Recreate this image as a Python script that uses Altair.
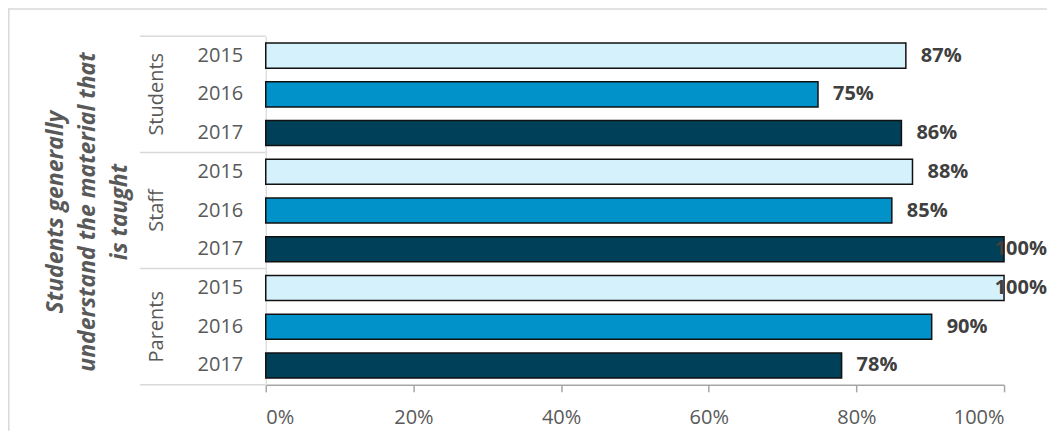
import altair as alt
import pandas as pd

groups = ["Students", "Students", "Students", "Staff", "Staff", "Staff", "Parents", "Parents", "Parents"]
years = ["2015", "2016", "2017", "2015", "2016", "2017", "2015", "2016", "2017"]
values = [0.867, 0.748, 0.861, 0.876, 0.848, 1.00, 1.00, 0.902, 0.78]
group_names = ["Students", "Staff", "Parents"]
title_lines = ["Students generally", "understand the material that", "is taught"]
x_ticks = [0, 0.2, 0.4, 0.6, 0.8, 1.0]
year_colors = ["#D5F1FC", "#0092C8", "#004059"]
year_domain = ["2015", "2016", "2017"]

keys = [g + "|" + y for g, y in zip(groups, years)]
df = pd.DataFrame({"key": keys, "group": groups, "year": years, "value": values})

W, H = 739, 349
FONT = "Open Sans"

yscale = alt.Scale(domain=keys, paddingInner=0, paddingOuter=0)
ybase = alt.Y("key:N", scale=yscale, sort=keys,
              axis=alt.Axis(title=None, labelExpr="split(datum.label, '|')[1]",
                            labelFont=FONT, labelFontSize=20, labelColor="#595959",
                            labelPadding=23, ticks=False, domainColor="#D9D9D9",
                            domainWidth=1.2))

bars = alt.Chart(df).mark_bar(height={"band": 0.65}, stroke="#111111", strokeWidth=1.5).encode(
    x=alt.X("value:Q", scale=alt.Scale(domain=[0, 1], nice=False),
            axis=alt.Axis(title=None, format="%", values=x_ticks, grid=False,
                          labelFont=FONT, labelFontSize=20, labelColor="#595959",
                          domainColor="#A6A6A6", domainWidth=1.5, tickColor="#A6A6A6",
                          tickWidth=1.5, tickSize=7, labelPadding=16)),
    y=ybase,
    color=alt.Color("year:N", scale=alt.Scale(domain=year_domain, range=year_colors), legend=None),
)

labels = alt.Chart(df).transform_calculate(
    lx="min(datum.value, 0.967)"
).mark_text(align="left", baseline="middle", dx=15, font=FONT, fontSize=20,
            fontWeight="bold", color="#404040").encode(
    x=alt.X("lx:Q"),
    y=alt.Y("key:N", scale=yscale, sort=keys),
    text=alt.Text("value:Q", format=".0%"),
)

gdf = pd.DataFrame({"key": [g + "|2016" for g in group_names], "group": group_names})
group_text = alt.Chart(gdf).mark_text(angle=270, align="center", baseline="middle",
                                      font=FONT, fontSize=20, color="#595959").encode(
    x=alt.value(-109),
    y=alt.Y("key:N", scale=yscale, sort=keys),
    text="group:N",
)

sdf = pd.DataFrame({"key": [g + "|2015" for g in group_names]})
sep_top = alt.Chart(sdf).mark_rule(color="#D9D9D9", strokeWidth=1.5).encode(
    x=alt.value(-126), x2=alt.value(0),
    y=alt.Y("key:N", scale=yscale, sort=keys, bandPosition=0),
)
bdf = pd.DataFrame({"key": [keys[-1]]})
sep_bottom = alt.Chart(bdf).mark_rule(color="#D9D9D9", strokeWidth=1.5).encode(
    x=alt.value(-126), x2=alt.value(0),
    y=alt.Y("key:N", scale=yscale, sort=keys, bandPosition=1),
)

tdf = pd.DataFrame({"t": [0]})
title_layers = []
for i, line in enumerate(title_lines):
    title_layers.append(
        alt.Chart(tdf).mark_text(text=line, angle=270, align="center", baseline="middle",
                                 font=FONT, fontSize=23, fontWeight="bold", fontStyle="italic",
                                 color="#595959").encode(
            x=alt.value(-210 + 32 * i), y=alt.value(176),
        )
    )

border_top = alt.Chart(tdf).mark_rule(color="#D9D9D9", strokeWidth=1.5).encode(
    x=alt.value(-258), x2=alt.value(W + 43), y=alt.value(-27.2)
)
border_left = alt.Chart(tdf).mark_rule(color="#D9D9D9", strokeWidth=1.5).encode(
    x=alt.value(-257.2), y=alt.value(-28), y2=alt.value(H + 46)
)

chart = alt.layer(border_top, border_left, sep_top, sep_bottom, bars, labels, group_text,
                  *title_layers).properties(
    width=W, height=H,
    autosize=alt.AutoSizeParams(type="none"),
    padding={"left": 258, "top": 28, "right": 43, "bottom": 46},
).configure_view(strokeWidth=0)

chart.save("out.html", embed_options={"renderer": "svg", "actions": False})
